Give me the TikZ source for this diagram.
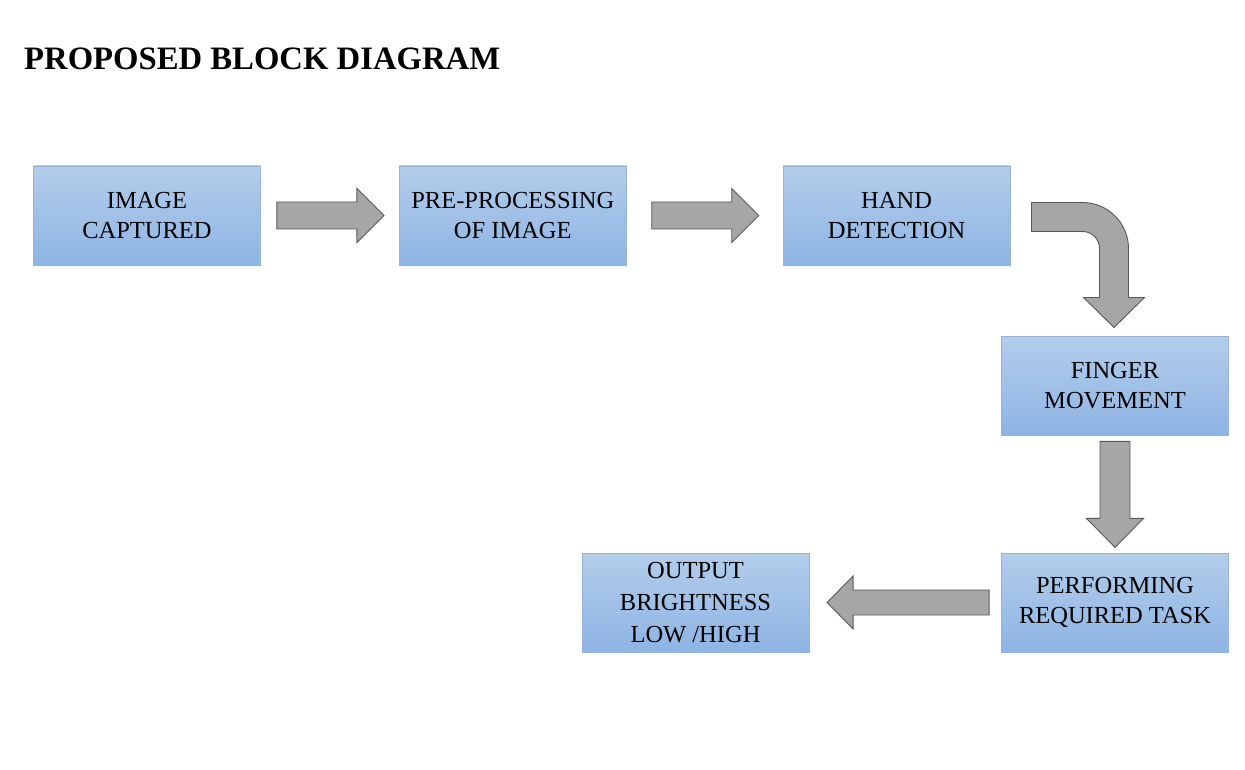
\documentclass[tikz,border=0pt]{standalone}
\usepackage{fontspec}
\setmainfont{Liberation Serif}
\usepackage{tikz}
\usetikzlibrary{positioning}
\definecolor{boxtop}{HTML}{B3CDEB}
\definecolor{boxbot}{HTML}{8EB4E3}
\definecolor{boxline}{HTML}{95B3D7}
\definecolor{arrfill}{HTML}{A6A6A6}
\definecolor{arrline}{HTML}{595959}
\tikzstyle{blockarrow} = [draw=arrline, fill=arrfill, line width=0.9pt, line join=miter]

\begin{document}
\begin{tikzpicture}[x=1pt, y=-1pt]
	\tikzstyle{box} = [rectangle, draw=boxline, line width=0.8pt, top color=boxtop, bottom color=boxbot, align=center, minimum height=99pt, minimum width=227pt, inner sep=0pt, font=\fontsize{24.5}{30}\selectfont];
	\useasboundingbox (0,0) rectangle (1245,770);
	\node (title) [anchor=base west, inner sep=0pt, font=\fontsize{32.7}{40}\selectfont\bfseries] at (24,70) {PROPOSED BLOCK DIAGRAM};
	\node (img) [box] at (147,215.5) {IMAGE\\CAPTURED};
	\node (pre) [box, right=138pt of img] {PRE-PROCESSING\\OF IMAGE};
	\node (hand) [box, right=156pt of pre] {HAND\\DETECTION};
	\node (fing) [box] at (1115,385.5) {FINGER\\MOVEMENT};
	\node (perf) [box] at (1115,602.5) {PERFORMING\\REQUIRED TASK};
	\node (out) [box, font=\fontsize{24.5}{32}\selectfont] at (695.5,602.5) {OUTPUT\\BRIGHTNESS\\LOW /HIGH};
	% block arrows between the boxes
	\draw [blockarrow] ([xshift=16pt]img.east) ++(0,-13.5) -- ++(80,0) -- ++(0,-13.5) -- ++(27,27) -- ++(-27,27) -- ++(0,-13.5) -- ++(-80,0) -- cycle;
	\draw [blockarrow] ([xshift=25pt]pre.east) ++(0,-13.5) -- ++(80,0) -- ++(0,-13.5) -- ++(27,27) -- ++(-27,27) -- ++(0,-13.5) -- ++(-80,0) -- cycle;
	\draw [blockarrow] ([xshift=21pt]hand.east) ++(0,-13) -- ++(51,0) .. controls ++(25.4,0) and ++(0,-25.4) .. ++(46,46) -- ++(0,49) -- ++(16,0) -- ++(-30.5,30) -- ++(-30.5,-30) -- ++(16,0) -- ++(0,-49) .. controls ++(0,-9.4) and ++(9.4,0) .. ++(-17,-17) -- ++(-51,0) -- cycle;
	\draw [blockarrow] ([yshift=-6pt]fing.south) ++(-15,0) -- ++(0,77) -- ++(-13.5,0) -- ++(28.5,29) -- ++(28.5,-29) -- ++(-13.5,0) -- ++(0,-77) -- cycle;
	\draw [blockarrow] ([xshift=-12pt]perf.west) ++(0,-12.5) -- ++(-136,0) -- ++(0,-14) -- ++(-26,26.5) -- ++(26,26.5) -- ++(0,-14) -- ++(136,0) -- cycle;
\end{tikzpicture}
\end{document}
